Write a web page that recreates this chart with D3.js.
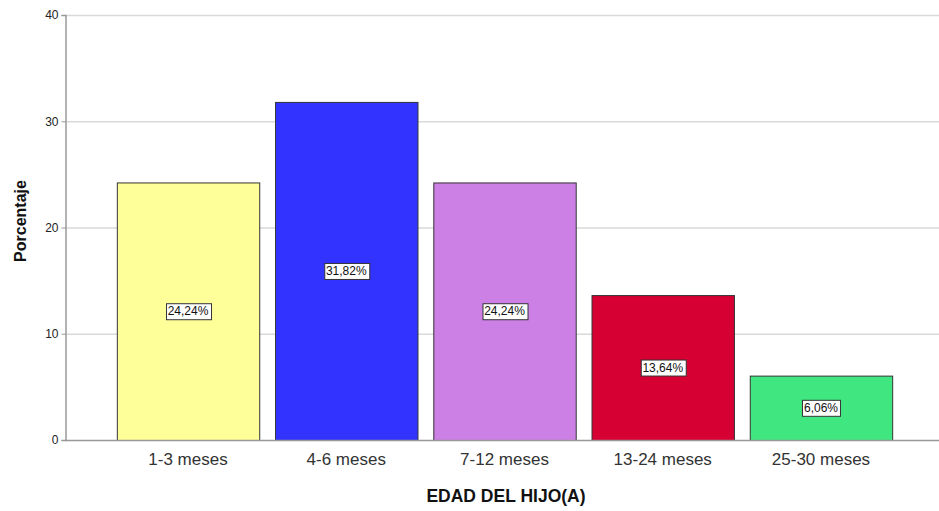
<!DOCTYPE html>
<html><head><meta charset="utf-8">
<script src="https://cdn.jsdelivr.net/npm/d3@7/dist/d3.min.js"></script>
<style>body{margin:0;background:#fff}svg{display:block}</style>
</head><body>
<svg id="c" width="939" height="511"></svg>
<script>
const categories = ["1-3 meses","4-6 meses","7-12 meses","13-24 meses","25-30 meses"];
const values = [24.24, 31.82, 24.24, 13.64, 6.06];
const labels = ["24,24%","31,82%","24,24%","13,64%","6,06%"];
const colors = ["#FFFF99","#3333FF","#CC7FE5","#D60032","#40E67F"];
const yTicks = [0,10,20,30,40];

const FONT = "Arial, Liberation Sans, sans-serif";
const svg = d3.select("#c");
const m = {l:65, r:939, t:15, b:440};
const x = d3.scaleBand().domain(categories).range([101, 908]).paddingInner(0.1).paddingOuter(0.1);
const y = d3.scaleLinear().domain([0,40]).range([m.b, m.t]);

// gridlines
svg.append("g").selectAll("line").data(yTicks.filter(d=>d>0)).join("line")
  .attr("x1", m.l).attr("x2", m.r).attr("y1", d=>y(d)+0.5).attr("y2", d=>y(d)+0.5)
  .attr("stroke","#d9d9d9").attr("stroke-width",1.5);

// y axis
const ya = svg.append("g").attr("transform",`translate(${m.l+0.5},0)`)
  .call(d3.axisLeft(y).tickValues(yTicks).tickSize(4).tickFormat(d3.format("d")));
ya.select(".domain").attr("stroke","#999").attr("stroke-width",1.5);
ya.selectAll(".tick line").attr("stroke","#999");
ya.selectAll("text").attr("font-family",FONT).attr("font-size",12).attr("fill","#222");

// bars
svg.append("g").selectAll("rect").data(values).join("rect")
  .attr("x",(d,i)=>x(categories[i])+0.5).attr("width",x.bandwidth())
  .attr("y",d=>y(d)+0.5).attr("height",d=>y(0)-y(d))
  .attr("fill",(d,i)=>colors[i]).attr("stroke","#333").attr("stroke-width",1);

// x axis line
svg.append("line").attr("x1",m.l).attr("x2",m.r).attr("y1",y(0)+0.5).attr("y2",y(0)+0.5)
  .attr("stroke","#999").attr("stroke-width",1.5);

// category labels
svg.append("g").selectAll("text").data(categories).join("text")
  .attr("x",d=>x(d)+x.bandwidth()/2).attr("y",465).attr("text-anchor","middle")
  .attr("font-family",FONT).attr("font-size",17).attr("fill","#333").text(d=>d);

// value labels
const lg = svg.append("g").selectAll("g").data(values).join("g")
  .attr("transform",(d,i)=>`translate(${x(categories[i])+x.bandwidth()/2},${(y(d)+y(0))/2})`);
lg.append("text").attr("text-anchor","middle").attr("dy","0.35em")
  .attr("font-family",FONT).attr("font-size",12).attr("fill","#111")
  .text((d,i)=>labels[i]);
lg.each(function(){
  const g=d3.select(this); const b=g.select("text").node().getBBox();
  g.insert("rect","text").attr("x",Math.round(b.x-2)+0.5).attr("y",Math.round(b.y-1)+0.5)
    .attr("width",Math.round(b.width+4)).attr("height",Math.round(b.height+2))
    .attr("fill","#fff").attr("stroke","#333").attr("stroke-width",1);
});

// titles
svg.append("text").attr("x",506).attr("y",502).attr("text-anchor","middle")
  .attr("font-family",FONT).attr("font-size",17.5).attr("font-weight","bold").attr("fill","#111")
  .text("EDAD DEL HIJO(A)");
svg.append("text").attr("transform","translate(26,221) rotate(-90)").attr("text-anchor","middle")
  .attr("font-family",FONT).attr("font-size",16).attr("font-weight","bold").attr("fill","#111")
  .text("Porcentaje");
</script>
</body></html>
